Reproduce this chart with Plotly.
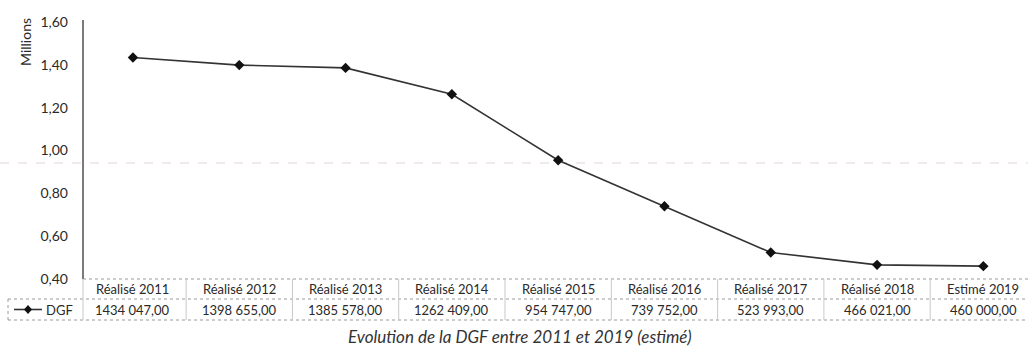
import plotly.graph_objects as go

# Chart data
categories = ["Réalisé 2011", "Réalisé 2012", "Réalisé 2013", "Réalisé 2014", "Réalisé 2015",
              "Réalisé 2016", "Réalisé 2017", "Réalisé 2018", "Estimé 2019"]
dgf = [1434047.00, 1398655.00, 1385578.00, 1262409.00, 954747.00,
       739752.00, 523993.00, 466021.00, 460000.00]
series_name = "DGF"
y_ticks = [0.40, 0.60, 0.80, 1.00, 1.20, 1.40, 1.60]
title_text = "Evolution de la DGF entre 2011 et 2019 (estimé)"

W, H = 1028, 349
L, R, T, B = 83, 0, 22, 70
PW, PH = W - L - R, H - T - B

FONT = "Lato, 'Open Sans', sans-serif"
TXT = "#2a2a2a"


def py(p):
    """Pixel row -> paper y."""
    return (H - B - p) / PH


def px(p):
    """Pixel column -> paper x."""
    return (p - L) / PW


def fmt(v):
    s = f"{v:.2f}"
    ip, dp = s.split(".")
    if len(ip) > 3:
        ip = ip[:-3] + " " + ip[-3:]
    return ip + "," + dp


xs = list(range(len(categories)))
fig = go.Figure()
fig.add_trace(go.Scatter(
    x=xs, y=[v / 1e6 for v in dgf], mode="lines+markers", name=series_name,
    line=dict(color="#333333", width=1.6),
    marker=dict(symbol="diamond", size=8, color="#111111"),
    showlegend=False, cliponaxis=False,
))

shapes = []
annotations = []

# faint horizontal band line across the plot
shapes.append(dict(type="line", xref="paper", yref="paper", x0=px(0), x1=1, y0=py(163), y1=py(163),
                   line=dict(color="#f0e9ed", width=2, dash="dash"), layer="below"))

# y axis line
shapes.append(dict(type="line", xref="paper", yref="paper", x0=0, x1=0, y0=py(279), y1=py(20),
                   line=dict(color="#7a7a7a", width=2)))

# data table
top, mid, bot = 279, 299, 320
dot = dict(color="#9a9a9a", width=1, dash="dot")
shapes.append(dict(type="line", xref="paper", yref="paper", x0=0, x1=1, y0=py(top), y1=py(top), line=dot))
shapes.append(dict(type="line", xref="paper", yref="paper", x0=px(8), x1=1, y0=py(mid), y1=py(mid), line=dot))
shapes.append(dict(type="line", xref="paper", yref="paper", x0=px(8), x1=1, y0=py(bot), y1=py(bot), line=dot))
shapes.append(dict(type="line", xref="paper", yref="paper", x0=px(8), x1=px(8), y0=py(mid), y1=py(bot), line=dot))
shapes.append(dict(type="line", xref="paper", yref="paper", x0=0, x1=0, y0=py(top), y1=py(bot),
                   line=dict(color="#c8c8c8", width=1)))
for i in range(len(categories) - 1):
    shapes.append(dict(type="line", xref="x", yref="paper", x0=i + 0.5, x1=i + 0.5, y0=py(top), y1=py(bot),
                       line=dict(color="#c8c8c8", width=1)))

for i, (c, v) in enumerate(zip(categories, dgf)):
    annotations.append(dict(x=i, y=py((top + mid) / 2), xref="x", yref="paper", text=c, showarrow=False,
                            font=dict(family=FONT, size=13, color=TXT), xanchor="center", yanchor="middle"))
    annotations.append(dict(x=i, y=py((mid + bot) / 2), xref="x", yref="paper", text=fmt(v), showarrow=False,
                            font=dict(family=FONT, size=13, color=TXT), xanchor="center", yanchor="middle"))

# legend key in the table
ly = py((mid + bot) / 2)
shapes.append(dict(type="line", xref="paper", yref="paper", x0=px(14), x1=px(42), y0=ly, y1=ly,
                   line=dict(color="#333333", width=1.6)))
cx, cy, dx, dy = px(28), ly, 4 / PW, 4.5 / PH
shapes.append(dict(type="path", xref="paper", yref="paper",
                   path=f"M {cx - dx} {cy} L {cx} {cy + dy} L {cx + dx} {cy} L {cx} {cy - dy} Z",
                   fillcolor="#111111", line=dict(color="#111111", width=0)))
annotations.append(dict(x=px(44), y=ly, xref="paper", yref="paper", text=series_name, showarrow=False,
                        font=dict(family=FONT, size=13, color=TXT), xanchor="left", yanchor="middle"))

# axis title
annotations.append(dict(x=px(26), y=py(42), xref="paper", yref="paper", text="Millions", showarrow=False,
                        textangle=-90, font=dict(family=FONT, size=14, color=TXT),
                        xanchor="center", yanchor="middle"))

# caption
annotations.append(dict(x=px(520), y=py(336), xref="paper", yref="paper",
                        text=f"<i>{title_text}</i>", showarrow=False,
                        font=dict(family=FONT, size=17, color="#333333"),
                        xanchor="center", yanchor="middle"))

fig.update_layout(
    width=W, height=H,
    margin=dict(l=L, r=R, t=T, b=B),
    paper_bgcolor="white", plot_bgcolor="white",
    separators=", ",
    xaxis=dict(range=[-0.47, 8.42], visible=False, fixedrange=True),
    yaxis=dict(range=[0.4, 1.6], tickvals=y_ticks, tickformat=".2f",
               showgrid=False, zeroline=False, showline=False, ticks="",
               ticklabelstandoff=14,
               tickfont=dict(family=FONT, size=14, color=TXT)),
    shapes=shapes, annotations=annotations,
)

fig.write_html("out.html")
